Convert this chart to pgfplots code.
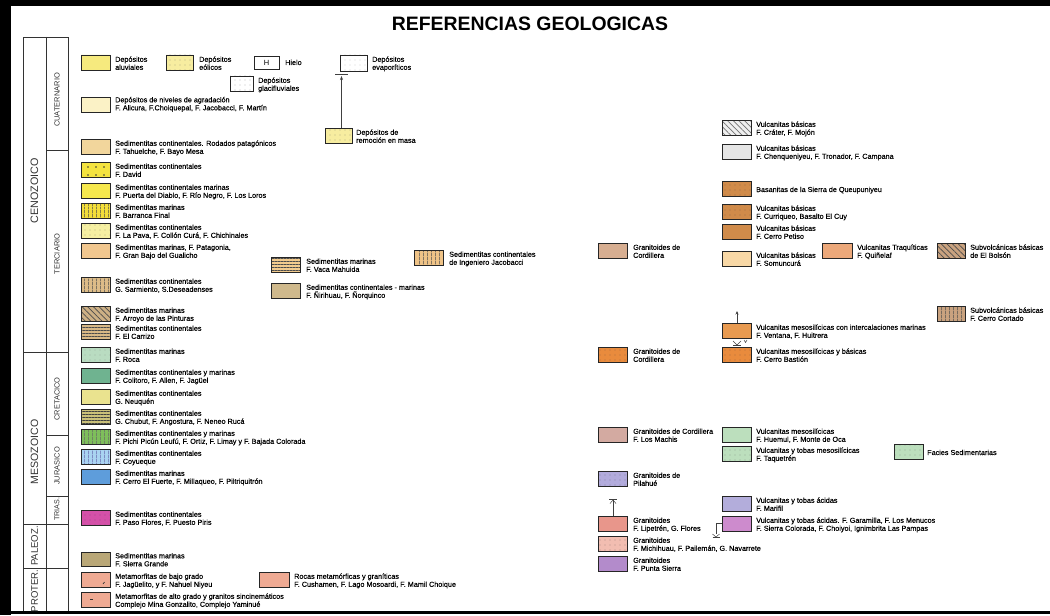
\documentclass[border=0pt]{standalone}
\usepackage{fontspec}
\setmainfont{Liberation Sans}
\newfontfamily\lbl{Liberation Sans}[FakeBold=0.3]
\usepackage{pgfplots}
\pgfplotsset{compat=1.18}
\usetikzlibrary{patterns.meta,arrows.meta}

\definecolor{caluv}{HTML}{F6EA7E}
\definecolor{ceol}{HTML}{F7EDA0}
\definecolor{cagra}{HTML}{FBF2C6}
\definecolor{croda}{HTML}{F2D69C}
\definecolor{cdavid}{HTML}{F4E340}
\definecolor{cpuerta}{HTML}{F6E84E}
\definecolor{cbarr}{HTML}{F3DE3A}
\definecolor{cpava}{HTML}{F5EFA2}
\definecolor{cpatag}{HTML}{F1C78F}
\definecolor{csarm}{HTML}{DDBC88}
\definecolor{cpint}{HTML}{CDB085}
\definecolor{ccarr}{HTML}{D8B886}
\definecolor{croca}{HTML}{B9DCC1}
\definecolor{ccolit}{HTML}{6FB390}
\definecolor{cneuq}{HTML}{EAE38F}
\definecolor{cchub}{HTML}{C9C079}
\definecolor{cpichi}{HTML}{7EBE5B}
\definecolor{ccoyu}{HTML}{A9D3F1}
\definecolor{cfuer}{HTML}{5E9DDB}
\definecolor{cpaso}{HTML}{D450A8}
\definecolor{csgra}{HTML}{B9A777}
\definecolor{cmeta}{HTML}{EFAA93}
\definecolor{cvaca}{HTML}{F2CB8E}
\definecolor{cjaco}{HTML}{EFC387}
\definecolor{cniri}{HTML}{CFB98C}
\definecolor{cgranA}{HTML}{D7AE91}
\definecolor{ccrat}{HTML}{EFEFEF}
\definecolor{cchenq}{HTML}{E5E5E5}
\definecolor{cbas}{HTML}{D08B4A}
\definecolor{csomu}{HTML}{F8D8A6}
\definecolor{ctraq}{HTML}{ECA87A}
\definecolor{cbols}{HTML}{C9A27F}
\definecolor{cvent}{HTML}{E89A50}
\definecolor{cgranB}{HTML}{E98B3D}
\definecolor{cmach}{HTML}{D3AAA1}
\definecolor{chuem}{HTML}{BCDFBD}
\definecolor{cpila}{HTML}{B2ABDC}
\definecolor{cmari}{HTML}{B3ADDB}
\definecolor{clipe}{HTML}{E8968B}
\definecolor{cgara}{HTML}{CD8BCD}
\definecolor{cmich}{HTML}{F2BDB1}
\definecolor{cpunt}{HTML}{B38BCB}

\tikzset{
  sw/.style={draw=black!85, line width=0.8bp},
  vl/.style={postaction={pattern={Lines[angle=90,distance=3.6bp,line width=0.7bp]},pattern color=#1}},
  vl/.default=black!70,
  hl/.style={postaction={pattern={Lines[angle=0,distance=3bp,line width=0.6bp]},pattern color=#1}},
  hl/.default=black!70,
  dl/.style={postaction={pattern={Lines[angle=-45,distance=4bp,line width=0.7bp]},pattern color=#1}},
  dl/.default=black!70,
  dt/.style={postaction={pattern={Dots[radius=0.45bp,distance=5bp]},pattern color=#1}},
  dt/.default=black!70,
  bd/.style={postaction={pattern={Dots[radius=0.8bp,distance=8bp]},pattern color=#1}},
  bd/.default=black!80,
  txt/.style={anchor=base west, inner sep=0pt, font=\lbl\fontsize{7.25}{8}\selectfont, text=black},
  sb/.style={draw=black!80, line width=0.8bp},
}

\newcommand{\sw}[5]{\addplot[sw,#5] coordinates {(#1,#2) (#3,#2) (#3,#4) (#1,#4) (#1,#2)};}
\newcommand{\tx}[4]{\node[txt,yshift=-6.8bp] at (axis cs:#1,#2) {#3};\node[txt,yshift=-14.8bp] at (axis cs:#1,#2) {#4};}
\newcommand{\tone}[3]{\node[txt,yshift=-11bp] at (axis cs:#1,#2) {#3};}

\begin{document}
\begin{tikzpicture}
\begin{axis}[scale only axis, width=1050bp, height=615bp,
  xmin=0, xmax=1050, ymin=0, ymax=615, y dir=reverse,
  axis lines=none, ticks=none, clip=false]

% background and frame
\addplot[fill=white,draw=none] coordinates {(0,0)(1050,0)(1050,615)(0,615)};
\addplot[fill=black,draw=none] coordinates {(0,0)(1050,0)(1050,6.5)(0,6.5)};
\addplot[fill=black,draw=none] coordinates {(0,0)(11,0)(11,615)(0,615)};
\addplot[fill=black,draw=none] coordinates {(0,610.5)(1050,610.5)(1050,614)(0,614)};

% title
\node[inner sep=0pt, font=\fontsize{19.5}{21}\selectfont\bfseries] at (axis cs:530,23.5) {REFERENCIAS GEOLOGICAS};

% sidebar
\addplot[sb] coordinates {(23,610.5)(23,37)(68,37)(68,610.5)};
\addplot[sb] coordinates {(46,37)(46,610.5)};
\addplot[sb] coordinates {(46,150)(68,150)};
\addplot[sb] coordinates {(23,352)(68,352)};
\addplot[sb] coordinates {(46,435)(68,435)};
\addplot[sb] coordinates {(46,496)(68,496)};
\addplot[sb] coordinates {(23,524)(68,524)};
\addplot[sb] coordinates {(23,568)(68,568)};
\node[rotate=90, inner sep=0pt, font=\fontsize{10.8}{12}\selectfont, text=black!80] at (axis cs:34.5,191) {CENOZOICO};
\node[rotate=90, inner sep=0pt, font=\fontsize{10.6}{12}\selectfont, text=black!80] at (axis cs:34.5,452) {MESOZOICO};
\node[rotate=90, inner sep=0pt, font=\fontsize{9.6}{11}\selectfont, text=black!80] at (axis cs:34.5,546) {PALEOZ.};
\node[rotate=90, inner sep=0pt, font=\fontsize{9.6}{11}\selectfont, text=black!80] at (axis cs:34.5,591) {PROTER.};
\node[rotate=90, inner sep=0pt, font=\fontsize{7.5}{8}\selectfont, text=black!80] at (axis cs:57,100) {CUATERNARIO};
\node[rotate=90, inner sep=0pt, font=\fontsize{7.5}{8}\selectfont, text=black!80] at (axis cs:57,254) {TERCIARIO};
\node[rotate=90, inner sep=0pt, font=\fontsize{7.5}{8}\selectfont, text=black!80] at (axis cs:57,399) {CRETACICO};
\node[rotate=90, inner sep=0pt, font=\fontsize{7.5}{8}\selectfont, text=black!80] at (axis cs:57,466) {JURASICO};
\node[rotate=90, inner sep=0pt, font=\fontsize{7.2}{8}\selectfont, text=black!80] at (axis cs:57,509) {TRIAS.};

% ---- Cuaternario top row
\sw{81}{55}{110}{70}{fill=caluv}
\tx{115}{55}{Depósitos}{aluviales}
\sw{166}{55}{193}{70}{fill=ceol,dt}
\tx{199}{55}{Depósitos}{eólicos}
\sw{254}{56}{279}{69}{fill=white}
\node[inner sep=0pt, font=\fontsize{7.5}{8}\selectfont] at (axis cs:266.5,62.5) {H};
\tone{285}{54}{Hielo}
\sw{230}{76}{253}{91}{fill=white,dt}
\tx{258}{76}{Depósitos}{glacifluviales}
\sw{340}{55}{367}{71}{fill=white,dt=black!45}
\tx{372}{55}{Depósitos}{evaporíticos}
\addplot[draw=black!75, line width=0.6bp] coordinates {(335,74)(348,74)};
\addplot[draw=black!75, line width=0.6bp, -{Stealth[length=4bp,width=3bp]}] coordinates {(341.5,128)(341.5,76)};
\sw{325}{128}{352}{143}{fill=ceol,dt}
\tx{356}{128}{Depósitos de}{remoción en masa}

% ---- left column
\sw{81}{97}{110}{112}{fill=cagra}
\tx{115}{95.5}{Depósitos de niveles de agradación}{F. Alicura, F.Choiquepal, F. Jacobacci, F. Martín}
\sw{81}{139}{110}{154}{fill=croda}
\tx{115}{139}{Sedimentitas continentales. Rodados patagónicos}{F. Tahuelche, F. Bayo Mesa}
\sw{81}{162}{110}{177}{fill=cdavid,bd}
\tx{115}{162}{Sedimentitas continentales}{F. David}
\sw{81}{183}{110}{198}{fill=cpuerta}
\tx{115}{183}{Sedimentitas continentales marinas}{F. Puerta del Diablo, F. Río Negro, F. Los Loros}
\sw{81}{203}{110}{218}{fill=cbarr,vl}
\tx{115}{203}{Sedimentitas marinas}{F. Barranca Final}
\sw{81}{223}{110}{238}{fill=cpava,dt}
\tx{115}{223}{Sedimentitas continentales}{F. La Pava, F. Collón Curá, F. Chichinales}
\sw{81}{243}{110}{258}{fill=cpatag}
\tx{115}{243}{Sedimentitas marinas, F. Patagonia,}{F. Gran Bajo del Gualicho}
\sw{81}{277}{110}{292}{fill=csarm,vl}
\tx{115}{277}{Sedimentitas continentales}{G. Sarmiento, S.Deseadenses}
\sw{81}{306}{110}{321}{fill=cpint,dl}
\tx{115}{306}{Sedimentitas marinas}{F. Arroyo de las Pinturas}
\sw{81}{324}{110}{339}{fill=ccarr,hl}
\tx{115}{324}{Sedimentitas continentales}{F. El Carrizo}
\sw{81}{347}{110}{362}{fill=croca,dt=black!55}
\tx{115}{347}{Sedimentitas marinas}{F. Roca}
\sw{81}{368}{110}{383}{fill=ccolit}
\tx{115}{368}{Sedimentitas continentales y marinas}{F. Colitoro, F. Allen, F. Jagüel}
\sw{81}{389}{110}{404}{fill=cneuq}
\tx{115}{389}{Sedimentitas continentales}{G. Neuquén}
\sw{81}{409}{110}{424}{fill=cchub,hl=black!75}
\tx{115}{409}{Sedimentitas continentales}{G. Chubut, F. Angostura, F. Neneo Rucá}
\sw{81}{429}{110}{444}{fill=cpichi,vl=black!60}
\tx{115}{429}{Sedimentitas continentales y marinas}{F. Pichi Picún Leufú, F. Ortiz, F. Limay y F. Bajada Colorada}
\sw{81}{449}{110}{464}{fill=ccoyu,vl=blue!45!black!60}
\tx{115}{449}{Sedimentitas continentales}{F. Coyueque}
\sw{81}{469}{110}{484}{fill=cfuer}
\tx{115}{469}{Sedimentitas marinas}{F. Cerro El Fuerte, F. Millaqueo, F. Piltriquitrón}
\sw{81}{510}{110}{525}{fill=cpaso,dt=black!70}
\tx{115}{510}{Sedimentitas continentales}{F. Paso Flores, F. Puesto Piris}
\sw{81}{552}{110}{566}{fill=csgra}
\tx{115}{551.5}{Sedimentitas marinas}{F. Sierra Grande}
\sw{81}{572}{110}{587}{fill=cmeta}
\addplot[draw=black!80, line width=0.7bp] coordinates {(103,584)(104.5,582)};
\tx{115}{572}{Metamorfitas de bajo grado}{F. Jagüelito, y F. Nahuel Niyeu}
\sw{259}{572}{289}{587}{fill=cmeta}
\tx{294}{572}{Rocas metamórficas y graníticas}{F. Cushamen, F. Lago Mosoardi, F. Mamil Choique}
\sw{81}{592}{110}{607}{fill=cmeta}
\addplot[draw=black!80, line width=0.8bp] coordinates {(90,599.5)(93,599.5)};
\tx{115}{592}{Metamorfitas de alto grado y granitos sincinemáticos}{Complejo Mina Gonzalito, Complejo Yaminué}

% ---- middle
\sw{271}{257}{300}{272}{fill=cvaca,hl}
\tx{306}{257}{Sedimentitas marinas}{F. Vaca Mahuida}
\sw{414}{250}{443}{265}{fill=cjaco,vl}
\tx{449}{250}{Sedimentitas continentales}{de Ingeniero Jacobacci}
\sw{271}{283}{300}{298}{fill=cniri}
\tx{306}{283}{Sedimentitas continentales - marinas}{F. Ñirihuau, F. Ñorquinco}

% ---- right
\sw{598}{243}{627}{258}{fill=cgranA}
\tx{633}{243}{Granitoides de}{Cordillera}
\sw{722}{120}{751}{135}{fill=ccrat,dl=black!55}
\tx{756}{120}{Vulcanitas básicas}{F. Cráter, F. Mojón}
\sw{722}{144}{751}{159}{fill=cchenq}
\tx{756}{144}{Vulcanitas básicas}{F. Chenqueniyeu, F. Tronador, F. Campana}
\sw{722}{181}{751}{196}{fill=cbas,dt=black!75}
\tone{756}{181}{Basanitas de la Sierra de Queupuniyeu}
\sw{722}{204}{751}{219}{fill=cbas,dt=black!75}
\tx{756}{204}{Vulcanitas básicas}{F. Curriqueo, Basalto El Cuy}
\sw{722}{224}{751}{239}{fill=cbas}
\tx{756}{224}{Vulcanitas básicas}{F. Cerro Petiso}
\sw{722}{251}{751}{266}{fill=csomu}
\tx{756}{251}{Vulcanitas básicas}{F. Somuncurá}
\sw{822}{243}{852}{258}{fill=ctraq}
\tx{857}{243}{Vulcanitas Traquíticas}{F. Quiñelaf}
\sw{937}{243}{965}{258}{fill=cbols,dl}
\tx{970}{243}{Subvolcánicas básicas}{de El Bolsón}
\sw{937}{306}{965}{321}{fill=cbols,vl}
\tx{970}{306}{Subvolcánicas básicas}{F. Cerro Cortado}
\addplot[draw=black!75, line width=0.6bp, -{Stealth[length=3.5bp,width=3bp]}] coordinates {(737,323)(737,311)};
\sw{722}{323}{751}{338}{fill=cvent}
\tx{756}{323}{Vulcanitas mesosilícicas con intercalaciones marinas}{F. Ventana, F. Huitrera}
\addplot[draw=black!75, line width=0.5bp] coordinates {(733,341)(737,345)(741,341)};
\addplot[draw=black!75, line width=0.5bp] coordinates {(733,345.5)(741,345.5)};
\addplot[draw=black!75, line width=0.5bp] coordinates {(744,340)(745.5,342.5)(747,340)};
\sw{598}{347}{627}{362}{fill=cgranB,dt=black!75}
\tx{633}{347}{Granitoides de}{Cordillera}
\sw{722}{347}{751}{362}{fill=cgranB,dt=black!75}
\tx{756}{347}{Vulcanitas mesosilícicas y básicas}{F. Cerro Bastión}
\sw{598}{427}{627}{442}{fill=cmach}
\tx{633}{427}{Granitoides de Cordillera}{F. Los Machis}
\sw{722}{427}{751}{442}{fill=chuem}
\tx{756}{427}{Vulcanitas mesosilícicas}{F. Huemul, F. Monte de Oca}
\sw{722}{446}{751}{461}{fill=chuem,dt=black!65}
\tx{756}{446}{Vulcanitas y tobas mesosilícicas}{F. Taquetrén}
\sw{894}{444}{923}{459}{fill=chuem,dt=black!65}
\tone{927}{444}{Facies Sedimentarias}
\sw{598}{471}{627}{486}{fill=cpila,dt=black!75}
\tx{633}{471}{Granitoides de}{Pilahué}
\sw{722}{496}{751}{511}{fill=cmari}
\tx{756}{496}{Vulcanitas y tobas ácidas}{F. Marifil}
\addplot[draw=black!75, line width=0.5bp] coordinates {(609,499)(617,499)};
\addplot[draw=black!75, line width=0.5bp] coordinates {(610,503.5)(613,500)(616,503.5)};
\addplot[draw=black!75, line width=0.5bp] coordinates {(613,500)(613,516)};
\sw{598}{516}{627}{531}{fill=clipe}
\tx{633}{516}{Granitoides}{F. Lipetrén, G. Flores}
\addplot[draw=black!75, line width=0.5bp] coordinates {(722,523)(716,523)(716,534)};
\addplot[draw=black!75, line width=0.5bp] coordinates {(712.5,534)(716,537)(719.5,534)};
\addplot[draw=black!75, line width=0.5bp] coordinates {(712.5,537.5)(719.5,537.5)};
\sw{722}{516}{751}{531}{fill=cgara}
\tx{756}{516}{Vulcanitas y tobas ácidas. F. Garamilla, F. Los Menucos}{F. Sierra Colorada, F. Choiyoi, Ignimbrita Las Pampas}
\sw{598}{536}{627}{551}{fill=cmich,dt=black!75}
\tx{633}{536}{Granitoides}{F. Michihuau, F. Pailemán, G. Navarrete}
\sw{598}{556}{627}{571}{fill=cpunt}
\tx{633}{556}{Granitoides}{F. Punta Sierra}

\end{axis}
\end{tikzpicture}
\end{document}
